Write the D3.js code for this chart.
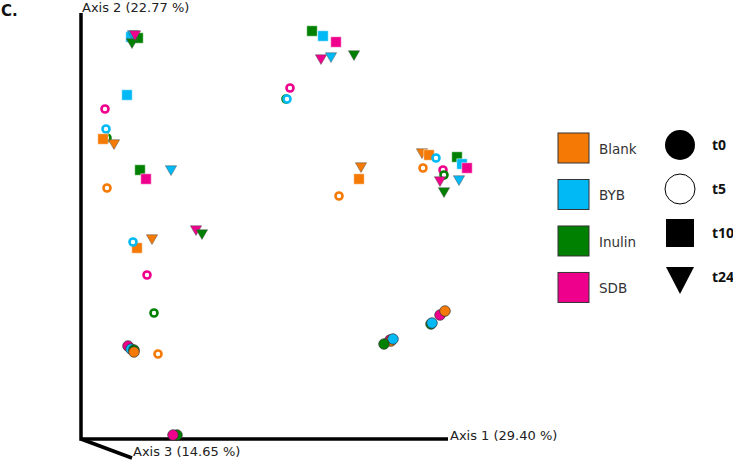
<!DOCTYPE html>
<html><head><meta charset="utf-8">
<script src="https://cdn.jsdelivr.net/npm/d3@7"></script>
<style>body{margin:0;background:#fff}svg{display:block}</style>
</head><body>
<svg id="c" width="733" height="461"></svg>
<script>
// ---- data ----
const groups = ["Blank", "BYB", "Inulin", "SDB"];
const groupColors = ["#f47a05", "#00b9f5", "#008000", "#ee008c"];
const times = ["t0", "t5", "t10", "t24"];
const axisLabels = ["Axis 1 (29.40 %)", "Axis 2 (22.77 %)", "Axis 3 (14.65 %)"];
const panelLabel = "C.";

// projected PCoA scores (screen plane), one entry per sample, in drawing order
const sampleGroup = [
  "SDB","BYB","Inulin","Blank","Inulin","SDB","SDB","Blank","BYB","Inulin","Inulin","BYB","SDB","Blank",
  "Inulin","SDB","BYB","Blank","Blank","BYB","Inulin","SDB","BYB","Blank",
  "BYB","Inulin","BYB","Inulin","SDB",
  "SDB","Inulin","Blank","Blank","BYB","SDB","Inulin","Blank",
  "Inulin","BYB","SDB","SDB","BYB","Inulin","SDB","Inulin","BYB",
  "Blank","Blank","Blank",
  "Blank","Blank","BYB","Blank","Inulin","BYB","SDB","SDB","Inulin","SDB","BYB","Inulin"
];
const sampleTime = [
  "t0","t0","t0","t0","t0","t0","t0","t0","t0","t0","t0","t0","t0","t0",
  "t5","t5","t5","t10","t24","t10","t10","t10","t24","t5",
  "t10","t10","t24","t24","t24",
  "t24","t24","t24","t10","t5","t5","t5","t5",
  "t10","t10","t10","t24","t24","t24","t5","t5","t5",
  "t24","t10","t5",
  "t24","t10","t5","t5","t10","t10","t10","t5","t5","t24","t24","t24"
];
const axis1 = [
  0.47, 0.50, 0.53, 0.53, 0.96, 0.92, 3.09, 3.10, 3.12, 3.03, 3.50, 3.51, 3.59, 3.64,
  0.26, 0.24, 0.25, 0.22, 0.33, 0.46, 0.59, 0.65, 0.90, 0.26,
  0.50, 0.57, 0.52, 0.51, 0.54,
  1.15, 1.21, 0.71, 0.56, 0.52, 0.66, 0.73, 0.77,
  2.31, 2.42, 2.55, 2.40, 2.50, 2.73, 2.09, 2.05, 2.06,
  2.80, 2.78, 2.58,
  3.41, 3.48, 3.55, 3.42, 3.76, 3.81, 3.86, 3.62, 3.63, 3.59, 3.78, 3.63
];
const axis2 = [
  0.93, 0.90, 0.89, 0.87, 0.04, 0.04, 0.99, 0.98, 1.00, 0.95, 1.15, 1.16, 1.24, 1.28,
  3.01, 3.30, 3.10, 3.00, 2.96, 3.44, 2.69, 2.60, 2.70, 2.51,
  4.02, 4.01, 4.05, 3.97, 4.05,
  2.10, 2.06, 2.01, 1.91, 1.97, 1.64, 1.26, 0.85,
  4.08, 4.03, 3.97, 3.81, 3.83, 3.85, 3.51, 3.40, 3.40,
  2.73, 2.60, 2.43,
  2.87, 2.84, 2.81, 2.71, 2.82, 2.75, 2.71, 2.69, 2.64, 2.59, 2.60, 2.48
];

// ---- render ----
const svg = d3.select("#c");
const color = d3.scaleOrdinal().domain(groups).range(groupColors);
const x = d3.scaleLinear().domain([0, 3.67]).range([81, 448]);
const y = d3.scaleLinear().domain([0, 4.26]).range([439, 13]);

svg.append("text").attr("x", 1).attr("y", 15.5)
  .attr("font-family", "DejaVu Sans, sans-serif").attr("font-weight", "bold")
  .attr("font-size", 15).attr("fill", "#111").text(panelLabel);

// axes frame
const ax = svg.append("g").attr("stroke", "#000").attr("stroke-width", 3.5).attr("fill", "none");
ax.append("path").attr("d", d3.line()([[x(0), y(4.26)], [x(0), y(0)], [x(3.67), y(0)]]));
ax.append("path").attr("d", d3.line()([[x(0), y(0)], [x(0.51), y(-0.19)]]));

const lab = svg.append("g").attr("font-family", "DejaVu Sans, Verdana, sans-serif")
  .attr("font-size", 13).attr("fill", "#222");
lab.append("text").attr("x", x(3.69)).attr("y", y(0) + 0.5).text(axisLabels[0]);
lab.append("text").attr("x", x(0.01)).attr("y", y(4.27)).text(axisLabels[1]);
lab.append("text").attr("x", x(0.52)).attr("y", y(-0.17)).text(axisLabels[2]);

// points
const samples = sampleGroup.map((g, i) => ({g, t: sampleTime[i], a1: axis1[i], a2: axis2[i]}));
const pts = svg.append("g");
samples.forEach(d => {
  const cx = x(d.a1), cy = y(d.a2), c = color(d.g);
  if (d.t === "t0") {
    pts.append("circle").attr("cx", cx).attr("cy", cy).attr("r", 5.3)
      .attr("fill", c).attr("stroke", "#333").attr("stroke-width", 0.7);
  } else if (d.t === "t5") {
    pts.append("circle").attr("cx", cx).attr("cy", cy).attr("r", 3.5)
      .attr("fill", "#fff").attr("stroke", c).attr("stroke-width", 2.6);
  } else if (d.t === "t10") {
    pts.append("path").attr("d", d3.symbol(d3.symbolSquare, 110)())
      .attr("transform", `translate(${cx},${cy})`)
      .attr("fill", c).attr("stroke", "#fff").attr("stroke-width", 0.5);
  } else {
    pts.append("path").attr("d", d3.symbol(d3.symbolTriangle, 55)())
      .attr("transform", `translate(${cx},${cy}) rotate(180)`)
      .attr("fill", c).attr("stroke", "#555").attr("stroke-width", 0.5);
  }
});

// legend: groups
const lg = svg.append("g").attr("transform", "translate(558,133)");
const gy = d3.scaleBand().domain(groups).range([0, 172]).paddingInner(0.3);
groups.forEach(g => {
  lg.append("rect").attr("x", 0).attr("y", gy(g)).attr("width", 31).attr("height", 30)
    .attr("fill", color(g)).attr("stroke", "#333").attr("stroke-width", 1);
  lg.append("text").attr("x", 41).attr("y", gy(g) + 21)
    .attr("font-family", "DejaVu Sans, Verdana, sans-serif").attr("font-size", 13.5)
    .attr("fill", "#333").text(g);
});

// legend: times
const lt = svg.append("g").attr("transform", "translate(680,0)");
const ty = d3.scalePoint().domain(times).range([145, 277]);
times.forEach(t => {
  const cy = ty(t);
  if (t === "t0") lt.append("circle").attr("cy", cy).attr("r", 15).attr("fill", "#000");
  else if (t === "t5") lt.append("circle").attr("cy", cy).attr("r", 15).attr("fill", "#fff")
    .attr("stroke", "#000").attr("stroke-width", 1);
  else if (t === "t10") lt.append("rect").attr("x", -14).attr("y", cy - 14)
    .attr("width", 28).attr("height", 28).attr("fill", "#000");
  else lt.append("path").attr("d", d3.line()([[-14, cy - 10], [14, cy - 10], [0, cy + 17]])).attr("fill", "#000");
  lt.append("text").attr("x", 32).attr("y", cy + 5)
    .attr("font-family", "Open Sans, sans-serif").attr("font-weight", "bold")
    .attr("font-size", 14).attr("fill", "#111").text(t);
});
</script>
</body></html>
